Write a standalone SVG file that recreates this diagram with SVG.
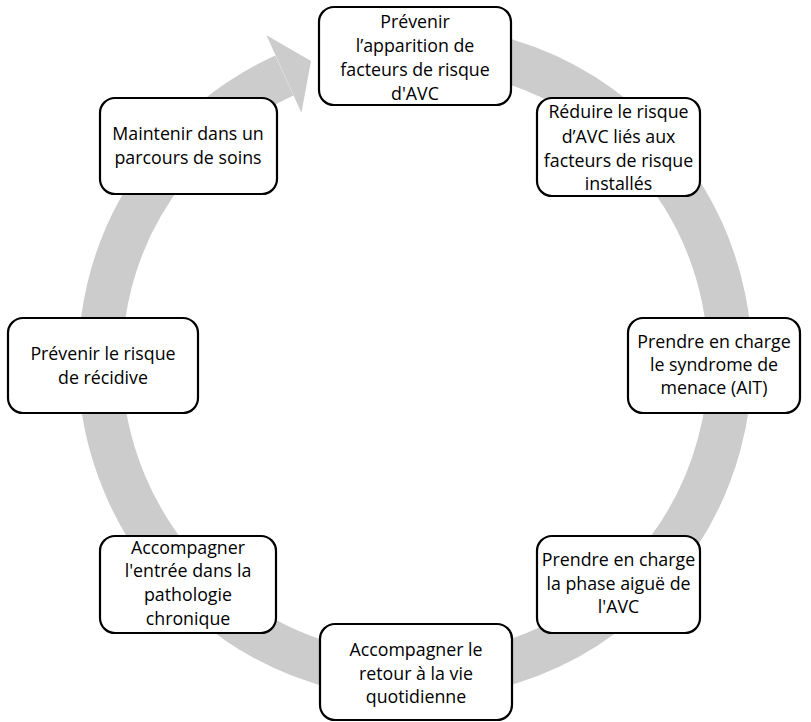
<svg xmlns="http://www.w3.org/2000/svg" width="811" height="722" viewBox="0 0 811 722">
<style>
.box{fill:#fff;stroke:#000;stroke-width:2.2}
.t{font-family:"Open Sans","Liberation Sans",sans-serif;font-size:17.8px;fill:#000;text-anchor:middle}
.ring{fill:none;stroke:#cccccc;stroke-width:44}
.head{fill:#cccccc}
</style>
<rect width="811" height="722" fill="#fff"/>
<g id="connectors">
<path class="ring" d="M 360.3 51.8 A 315 315 0 1 1 284.4 75.4"/>
<polygon class="head" points="266.5,35.2 311,61 301.4,112.7"/>
</g>
<g id="n1">
<rect class="box" x="319" y="7" width="192" height="98" rx="15"/>
<text class="t" x="415" y="28">Prévenir</text>
<text class="t" x="415" y="52">l’apparition de</text>
<text class="t" x="415" y="76">facteurs de risque</text>
<text class="t" x="415" y="100">d'AVC</text>
</g>
<g id="n2">
<rect class="box" x="537" y="98" width="163" height="98" rx="15"/>
<text class="t" x="618.5" y="118">Réduire le risque</text>
<text class="t" x="618.5" y="143">d’AVC liés aux</text>
<text class="t" x="618.5" y="167">facteurs de risque</text>
<text class="t" x="618.5" y="190">installés</text>
</g>
<g id="n3">
<rect class="box" x="628" y="318" width="172" height="95" rx="15"/>
<text class="t" x="714" y="348">Prendre en charge</text>
<text class="t" x="714" y="371">le syndrome de</text>
<text class="t" x="714" y="394">menace (AIT)</text>
</g>
<g id="n4">
<rect class="box" x="537" y="536" width="163" height="97" rx="15"/>
<text class="t" x="618.5" y="566">Prendre en charge</text>
<text class="t" x="618.5" y="590">la phase aiguë de</text>
<text class="t" x="618.5" y="613">l'AVC</text>
</g>
<g id="n5">
<rect class="box" x="320" y="624" width="192" height="96" rx="15"/>
<text class="t" x="416" y="656">Accompagner le</text>
<text class="t" x="416" y="680">retour à la vie</text>
<text class="t" x="416" y="703">quotidienne</text>
</g>
<g id="n6">
<rect class="box" x="100" y="536" width="176" height="97" rx="15"/>
<text class="t" x="188" y="554">Accompagner</text>
<text class="t" x="188" y="577">l'entrée dans la</text>
<text class="t" x="188" y="601">pathologie</text>
<text class="t" x="188" y="625">chronique</text>
</g>
<g id="n7">
<rect class="box" x="8" y="318" width="190" height="95" rx="15"/>
<text class="t" x="103" y="360">Prévenir le risque</text>
<text class="t" x="103" y="384">de récidive</text>
</g>
<g id="n8">
<rect class="box" x="100" y="98" width="177" height="96" rx="15"/>
<text class="t" x="188" y="140">Maintenir dans un</text>
<text class="t" x="188" y="164">parcours de soins</text>
</g>
</svg>
